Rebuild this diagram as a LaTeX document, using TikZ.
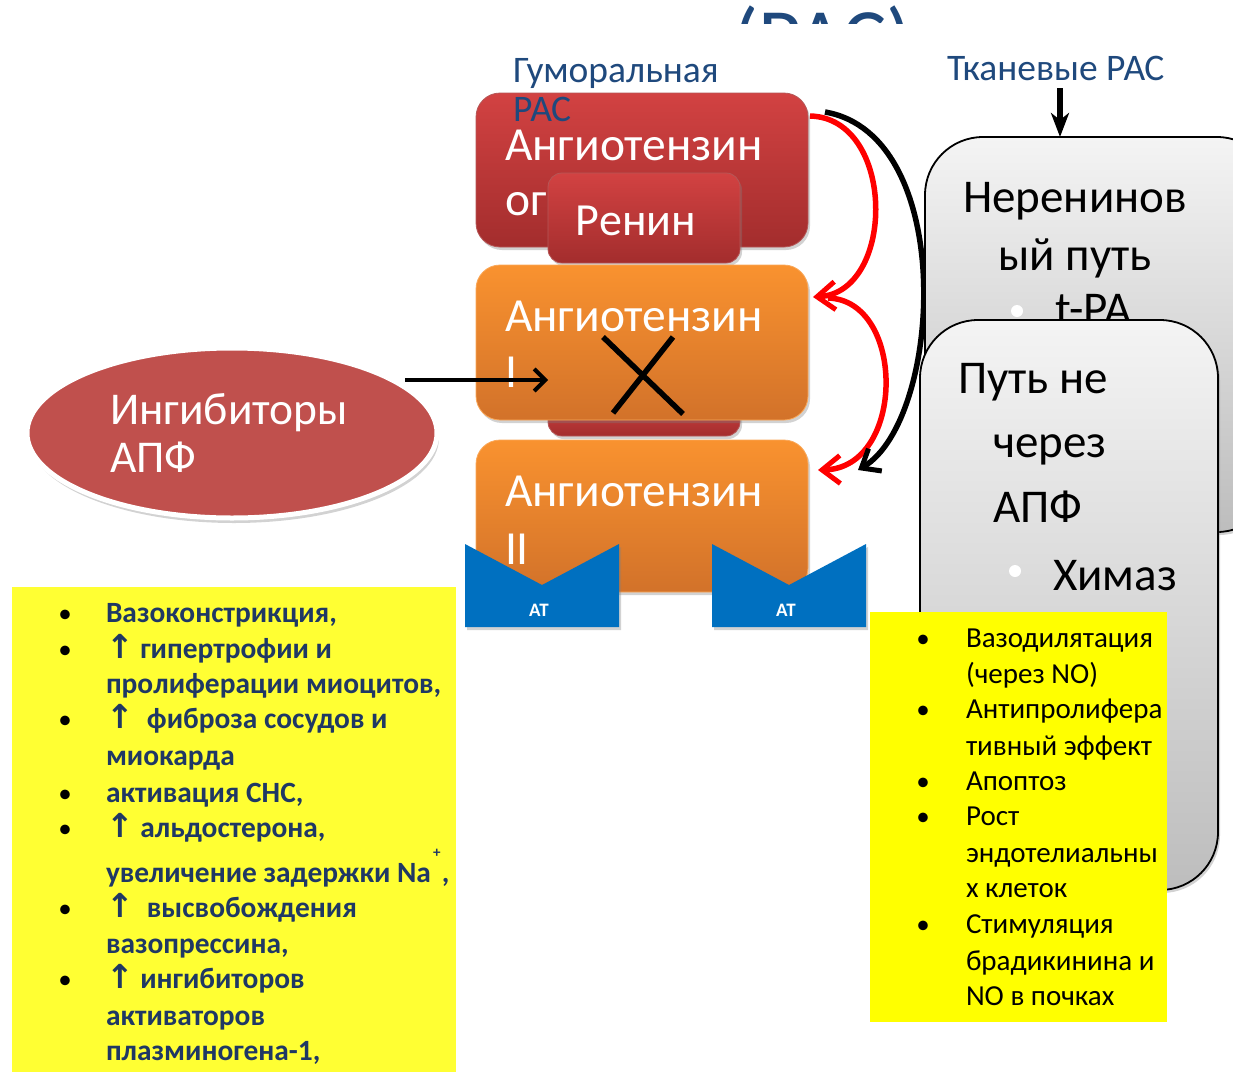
\documentclass[tikz,border=0pt]{standalone}
\usepackage{fontspec}
\setmainfont{Carlito}
\newfontfamily\symf{DejaVu Sans}
\usetikzlibrary{arrows.meta,shadows,shapes.geometric}
\definecolor{labblue}{HTML}{1F497D}
\definecolor{navy}{HTML}{1F3864}
\definecolor{redT}{HTML}{D24242}
\definecolor{redB}{HTML}{A32D2D}
\definecolor{orT}{HTML}{F9922F}
\definecolor{orB}{HTML}{D2722A}
\definecolor{ellred}{HTML}{C0504D}
\definecolor{atblue}{HTML}{0070C0}
\definecolor{ylwL}{HTML}{FFFF33}
\definecolor{ylwR}{HTML}{FFFF00}
\definecolor{grT}{HTML}{F4F4F4}
\definecolor{grB}{HTML}{BDBDBD}
\begin{document}
\begin{tikzpicture}[x=1pt,y=-1pt,
  every node/.style={inner sep=0pt,outer sep=0pt},
  shd/.style={drop shadow={opacity=0.35,shadow xshift=2pt,shadow yshift=-3pt}},
  redbox/.style={rounded corners=24pt,top color=redT,bottom color=redB,draw=redB!80!white,line width=0.8pt,shd},
  renbox/.style={rounded corners=14pt,top color=redT,bottom color=redB,draw=redB!80!white,line width=0.8pt,shd},
  orbox/.style={rounded corners=24pt,top color=orT,bottom color=orB,draw=orT!80!white,line width=0.8pt,shd},
  grbox/.style={rounded corners=58pt,top color=grT,bottom color=grB,draw=black,line width=1.8pt,shd},
  boxtxt/.style={anchor=base west,text=white,font=\fontsize{47.5}{56}\selectfont},
  grtxt/.style={anchor=base west,text=black,font=\fontsize{47}{54}\selectfont},
  lab/.style={anchor=base west,text=labblue,font=\fontsize{37.5}{40}\selectfont},
  ltxt/.style={anchor=base west,text=navy,font=\fontsize{29.4}{32}\selectfont\bfseries},
  rtxt/.style={anchor=base west,text=black,font=\fontsize{29}{32}\selectfont},
  bul/.style={anchor=base,text=black,font=\fontsize{27}{32}\selectfont},
  redarr/.style={draw=red,line width=5.5pt,-{Straight Barb[length=18pt,width=28pt,line width=5pt]}},
  blkarr/.style={draw=black,line width=5.5pt,-{Straight Barb[length=16pt,width=26pt,line width=5pt]}},
  attxt/.style={text=white,font=\fontsize{19}{22}\selectfont\bfseries}
]
\clip (0,0) rectangle (1233,1071);
\fill[white] (0,0) rectangle (1233,1071);

% clipped title
\begin{scope}
\clip (600,0) rectangle (1000,23);
\node[anchor=base west,text=labblue,font=\fontsize{83}{86}\selectfont] (title) at (733,66) {(РАС)};
\end{scope}

% humoral RAS column
\node[redbox,anchor=north west,minimum width=332pt,minimum height=154pt] (ango) at (476,93) {};
\node[boxtxt] (angot1) at (505,160) {Ангиотензин};
\node[boxtxt] (angot2) at (505,215) {ог};
\node[renbox,anchor=north west,minimum width=192pt,minimum height=90pt] (renin) at (548,173) {};
\node[text=white,font=\fontsize{46}{54}\selectfont,anchor=base] (renint) at (636,235) {Ренин};
\node[renbox,anchor=north west,minimum width=192pt,minimum height=36pt] (ace) at (548,400) {};

\node[orbox,anchor=north west,minimum width=332pt,minimum height=155pt] (ang1) at (476,265) {};
\node[boxtxt] (ang1t1) at (505,331) {Ангиотензин};
\node[boxtxt] (ang1t2) at (505,387) {I};

\node[orbox,anchor=north west,minimum width=332pt,minimum height=152pt] (ang2) at (476,440) {};
\node[boxtxt] (ang2t1) at (505,506) {Ангиотензин};
\node[boxtxt] (ang2t2) at (505,564) {II};

% AT receptors
\path[fill=atblue,shd] (465,544) -- (542,585) -- (619,544) -- (619,627) -- (465,627) -- cycle;
\node[attxt] (at1) at (539,610) {АТ};
\path[fill=atblue,shd] (712,544) -- (789,585) -- (866,544) -- (866,627) -- (712,627) -- cycle;
\node[attxt] (at2) at (786,610) {АТ};

% cross
\draw[line width=5.5pt] (603,337) -- (683,414);
\draw[line width=5.5pt] (673,337) -- (613,413);

% labels
\node[lab] (humlab1) at (513,82) {Гуморальная};
\node[lab] (humlab2) at (513,121) {РАС};
\node[lab] (tislab) at (947,80) {Тканевые РАС};

% ACE inhibitors ellipse
\node[ellipse,fill=ellred,draw=white,line width=5pt,minimum width=410pt,minimum height=170pt,
  drop shadow={opacity=0.35,shadow xshift=2pt,shadow yshift=-5pt}] (acei) at (232,433) {};
\node[anchor=base west,text=white,font=\fontsize{45.5}{50}\selectfont] (aceit1) at (110,424) {Ингибиторы};
\node[anchor=base west,text=white,font=\fontsize{45.5}{50}\selectfont] (aceit2) at (110,472) {АПФ};

% coordinates for connectors
\coordinate (r1s) at (810,116);
\coordinate (r1e) at (813,297);
\coordinate (r2s) at (828,298);
\coordinate (r2e) at (818,470);
\coordinate (bks) at (825,112);
\coordinate (bke) at (858,470);
\coordinate (acein) at (548,380);
\coordinate (aceo) at (405,380);

\draw[redarr] (r1s) .. controls (896,118) and (896,292) .. (r1e);
\draw[redarr] (r2s) .. controls (906,300) and (906,468) .. (r2e);
\draw[blkarr] (bks) .. controls (958,135) and (942,420) .. (bke);
\draw[line width=4.5pt,-{Straight Barb[length=11pt,width=22pt,line width=4pt]}] (aceo) -- (acein);

% tissue RAS boxes
\node[grbox,anchor=north west,minimum width=350pt,minimum height=395pt] (nonren) at (925,137) {};
\coordinate (tisarr) at (1060,88);
\draw[line width=6pt,-{Stealth[length=24pt,width=18pt,inset=7pt]}] (tisarr) -- (tisarr |- nonren.north);
\node[grtxt,anchor=base] (nr1) at (1075,212) {Неренинов};
\node[grtxt,anchor=base] (nr2) at (1075,270) {ый путь};
\fill[white] (1017,311) circle (6pt);
\node[grtxt] (nr3) at (1055,324) {t-PA};

\node[grbox,anchor=north west,minimum width=298pt,minimum height=570pt] (nonace) at (920,320) {};
\node[grtxt] (na1) at (958,393) {Путь не};
\node[grtxt] (na2) at (993,457) {через};
\node[grtxt] (na3) at (993,522) {АПФ};
\fill[white] (1015,571) circle (6pt);
\node[grtxt] (na4) at (1053,590) {Химаз};

% yellow left
\fill[ylwL] (12,587) rectangle (456,1075);
\foreach \y in {622,658,728,802,837,917,988} {\node[bul] at (65,\y) {•};}
\def\up{{\symf\bfseries\fontsize{33}{34}\selectfont ↑}}
\node[ltxt] at (106,622) {Вазоконстрикция,};
\node[ltxt] at (106,658) {\up\ гипертрофии и};
\node[ltxt] at (106,693) {пролиферации миоцитов,};
\node[ltxt] at (106,728) {\up\ \ фиброза сосудов и};
\node[ltxt] at (106,765) {миокарда};
\node[ltxt] at (106,802) {активация СНС,};
\node[ltxt] at (106,837) {\up\ альдостерона,};
\node[ltxt] (na) at (106,882) {увеличение задержки Na};
\node[anchor=base,text=navy,font=\fontsize{15}{18}\selectfont\bfseries] (plus) at ([xshift=6pt,yshift=25pt]na.base east) {+};
\node[ltxt] (comma) at ([xshift=11pt]na.base east) {,};
\node[ltxt] at (106,917) {\up\ \ высвобождения};
\node[ltxt] at (106,953) {вазопрессина,};
\node[ltxt] at (106,988) {\up\ ингибиторов};
\node[ltxt] at (106,1025) {активаторов};
\node[ltxt] at (106,1060) {плазминогена-1,};

% yellow right
\fill[ylwR] (870,612) rectangle (1167,1022);
\foreach \y in {647,718,790,825,933} {\node[bul] at (923,\y) {•};}
\node[rtxt] at (966,647) {Вазодилятация};
\node[rtxt] at (966,683) {(через NO)};
\node[rtxt] at (966,718) {Антипролифера};
\node[rtxt] at (966,755) {тивный эффект};
\node[rtxt] at (966,790) {Апоптоз};
\node[rtxt] at (966,825) {Рост};
\node[rtxt] at (966,862) {эндотелиальны};
\node[rtxt] at (966,897) {х клеток};
\node[rtxt] at (966,933) {Стимуляция};
\node[rtxt] at (966,970) {брадикинина и};
\node[rtxt] at (966,1005) {NO в почках};
\end{tikzpicture}
\end{document}
